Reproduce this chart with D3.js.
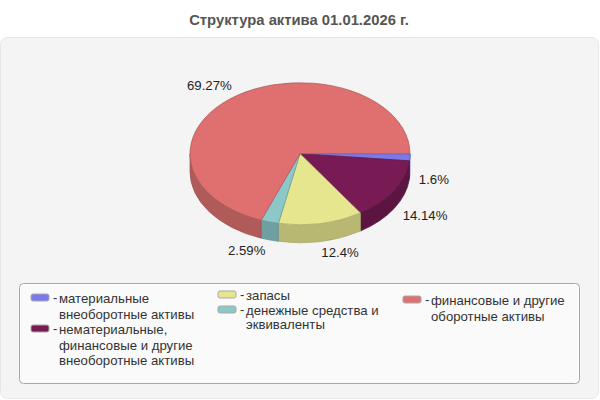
<!DOCTYPE html>
<html>
<head>
<meta charset="utf-8">
<script src="https://cdn.jsdelivr.net/npm/d3@7"></script>
<style>
  body { margin: 0; background: #fff; }
  text { font-family: "Liberation Sans", Arial, sans-serif; }
</style>
</head>
<body>
<div id="chart"></div>
<script>
//chart data, in drawing order (clockwise from the east side of the pie)
var categories = [
  ["материальные", "внеоборотные активы"],
  ["нематериальные,", "финансовые и другие", "внеоборотные активы"],
  ["запасы"],
  ["денежные средства и", "эквиваленты"],
  ["финансовые и другие", "оборотные активы"]
];
var values = [1.6, 14.14, 12.4, 2.59, 69.27];
var topColors = ["#7b78ec", "#781b54", "#e6e68e", "#8cc8c8", "#e07070"];
var sideColors = ["#6e6be4", "#5c1441", "#b8b872", "#6f9fa0", "#b05a5a"];

//set up the dimensions of the chart
var width = 600;
var height = 400;
var cx = 300, cy = 153.7, rx = 110, ry = 71, depth = 18;

//label position relative to the rim, one per slice
var labelDx = [24, 31, 19, -23, -28];
var labelDy = [22, 25, 29, 28, -10];

//legend layout, one per entry
var legendX = [30, 30, 217, 217, 402];
var legendY = [298, 329, 295, 310, 300];
var legendStep = [15.7, 15.7, 14, 13.5, 15.7];

var svg = d3.select("#chart")
  .append("svg")
  .attr("width", width)
  .attr("height", height)
  .style("display", "block");

//title
svg.append("text")
  .attr("x", width / 2 - 1)
  .attr("y", 25)
  .attr("text-anchor", "middle")
  .attr("font-size", 14.8)
  .attr("font-weight", "bold")
  .attr("fill", "#555")
  .text("Структура актива 01.01.2026 г.");

//outer panel
svg.append("rect")
  .attr("x", 0.5).attr("y", 37.5)
  .attr("width", 598).attr("height", 361)
  .attr("rx", 7)
  .attr("fill", "#f4f4f4")
  .attr("stroke", "#e6e6e6");

//d3.pie angles start at 12 o'clock, so a quarter turn puts the first slice at 3 o'clock
var pie = d3.pie().sort(null).startAngle(Math.PI / 2).endAngle(Math.PI * 2.5);
var slices = pie(values);

function pt(a, dy) {
  return [cx + rx * Math.sin(a), cy - ry * Math.cos(a) + (dy || 0)];
}

function arcTo(a0, a1, dy) {
  var p = pt(a1, dy);
  var large = Math.abs(a1 - a0) > Math.PI ? 1 : 0;
  var sweep = a1 > a0 ? 1 : 0;
  return "A" + rx + "," + ry + " 0 " + large + " " + sweep + " " + p[0] + "," + p[1];
}

function topPath(d) {
  var p = pt(d.startAngle);
  return "M" + cx + "," + cy + "L" + p[0] + "," + p[1] + arcTo(d.startAngle, d.endAngle) + "Z";
}

//only the part of a slice between 3 and 9 o'clock has a visible wall
function sidePath(d) {
  var a0 = Math.max(d.startAngle, Math.PI / 2);
  var a1 = Math.min(d.endAngle, Math.PI * 1.5);
  if (a1 <= a0) return null;
  var p = pt(a0), q = pt(a1, depth);
  return "M" + p[0] + "," + p[1] + arcTo(a0, a1) +
    "L" + q[0] + "," + q[1] + arcTo(a1, a0, depth) + "Z";
}

svg.selectAll("path.side")
  .data(slices)
  .enter()
  .append("path")
  .attr("class", "side")
  .attr("d", sidePath)
  .attr("fill", (d, i) => sideColors[i])
  .attr("stroke", (d, i) => d3.color(sideColors[i]).darker(0.3))
  .attr("stroke-width", 0.7);

svg.selectAll("path.top")
  .data(slices)
  .enter()
  .append("path")
  .attr("class", "top")
  .attr("d", topPath)
  .attr("fill", (d, i) => topColors[i])
  .attr("stroke", (d, i) => d3.color(topColors[i]).darker(0.8))
  .attr("stroke-width", 0.7);

//value labels
svg.selectAll("text.value")
  .data(slices)
  .enter()
  .append("text")
  .attr("class", "value")
  .attr("x", (d, i) => pt((d.startAngle + d.endAngle) / 2)[0] + labelDx[i])
  .attr("y", (d, i) => pt((d.startAngle + d.endAngle) / 2)[1] + labelDy[i] + 5)
  .attr("text-anchor", "middle")
  .attr("font-size", 13.2)
  .attr("fill", "#222")
  .text(d => d.value + "%");

//legend box
svg.append("rect")
  .attr("x", 19.5).attr("y", 283.5)
  .attr("width", 560).attr("height", 100)
  .attr("rx", 4)
  .attr("fill", "#fafafa")
  .attr("stroke", "#a8a8a8");

var legend = svg.selectAll("g.legend")
  .data(categories)
  .enter()
  .append("g")
  .attr("class", "legend")
  .attr("transform", (d, i) => "translate(" + legendX[i] + "," + legendY[i] + ")");

legend.append("rect")
  .attr("x", 1).attr("y", -4)
  .attr("width", 18).attr("height", 7)
  .attr("rx", 2)
  .attr("fill", (d, i) => topColors[i])
  .attr("stroke", "#a8a8a8");

legend.append("text")
  .attr("x", 23).attr("y", 4)
  .attr("font-size", 13)
  .attr("fill", "#333")
  .text("-");

legend.each(function (lines, i) {
  d3.select(this).selectAll("text.line")
    .data(lines)
    .enter()
    .append("text")
    .attr("class", "line")
    .attr("x", 29)
    .attr("y", (d, j) => 5 + j * legendStep[i])
    .attr("font-size", 13.2)
    .attr("fill", "#333")
    .text(d => d);
});
</script>
</body>
</html>
